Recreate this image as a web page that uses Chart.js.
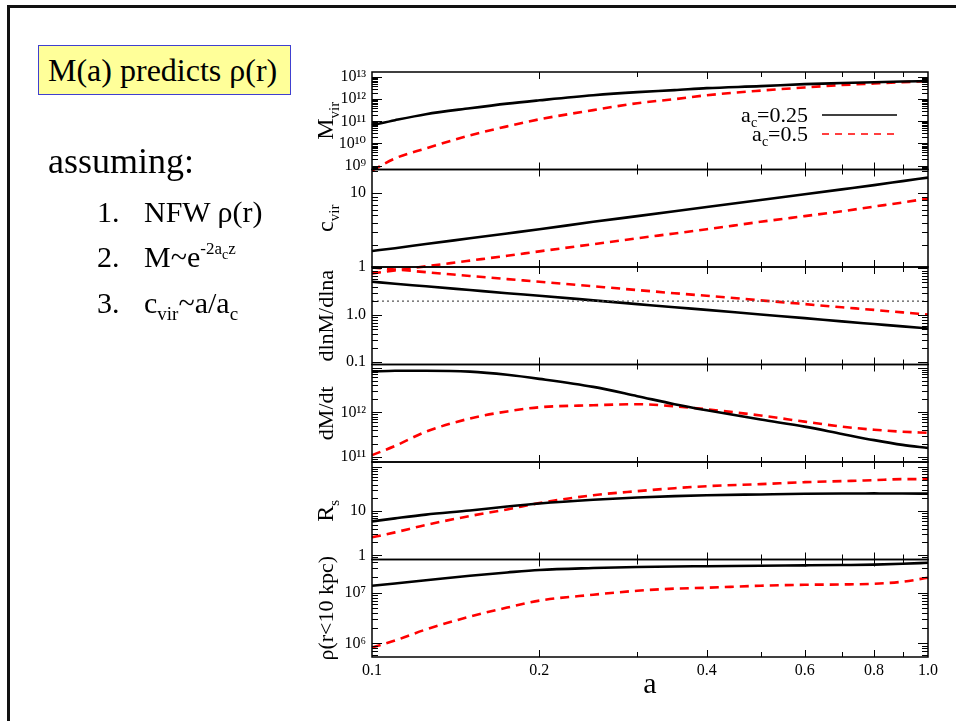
<!DOCTYPE html>
<html>
<head>
<meta charset="utf-8">
<title>M(a) predicts rho(r)</title>
<script src="https://cdn.jsdelivr.net/npm/chart.js@4.4.1/dist/chart.umd.min.js"></script>
<style>
  html, body { margin: 0; padding: 0; width: 956px; height: 721px; overflow: hidden; background: #fff; }
  body { position: relative; font-family: "Liberation Serif", "Times New Roman", serif; color: #000; }
  #frame { position: absolute; left: 7px; top: 5px; width: 980px; height: 740px; border-top: 3px solid #111; border-left: 3px solid #111; }
  #chart { position: absolute; left: 0; top: 0; }
  .txt { position: absolute; white-space: nowrap; line-height: 1; z-index: 2; }
  #headline { left: 38px; top: 45px; width: 253px; height: 50px; box-sizing: border-box; background: #ffff99;
              border: 1px solid #4040d0; font-size: 32px; line-height: 48px; padding-left: 9px; }
  #assume { left: 48px; top: 143px; font-size: 36px; }
  .num, .item { font-size: 30px; }
  .num { left: 97px; }
  .item { left: 144px; }
  .sup { font-size: 17px; position: relative; top: -13px; }
  .supsub { font-size: 14px; position: relative; top: 5px; }
  .sub { font-size: 19px; position: relative; top: 7px; }
</style>
</head>
<body>
<div id="frame"></div>
<canvas id="chart" width="956" height="721"></canvas>
<div class="txt" id="headline">M(a) predicts ρ(r)</div>
<div class="txt" id="assume">assuming:</div>
<div class="txt num" style="top:197px">1.</div>
<div class="txt item" style="top:197px">NFW ρ(r)</div>
<div class="txt num" style="top:242px">2.</div>
<div class="txt item" style="top:242px">M~e<span class="sup">-2a<span class="supsub">c</span>z</span></div>
<div class="txt num" style="top:288px">3.</div>
<div class="txt item" style="top:288px">c<span class="sub">vir</span>~a/a<span class="sub">c</span></div>
<script>
// expansion factor samples (shared by every panel)
const aVals = [0.1, 0.11, 0.125, 0.15, 0.175, 0.2, 0.25, 0.3, 0.35, 0.4, 0.5, 0.6, 0.7, 0.8, 0.9, 1.0];
const aTicks = [0.1, 0.2, 0.4, 0.6, 0.8, 1.0];

// M_vir
const mvirAc25 = [6.6e10, 1.12e11, 2.1e11, 3.9e11, 6.3e11, 8.9e11, 1.51e12, 2.09e12, 2.57e12, 3.16e12, 3.89e12, 4.79e12, 5.37e12, 5.89e12, 6.31e12, 6.6e12];
const mvirAc50 = [5.9e8, 2.1e9, 5.9e9, 2.3e10, 5.9e10, 1.23e11, 3.2e11, 6.6e11, 1.0e12, 1.51e12, 2.45e12, 3.39e12, 4.37e12, 5.13e12, 5.89e12, 6.6e12];
// c_vir
const cvirAc25 = [1.65, 1.8, 2.05, 2.45, 2.85, 3.25, 4.1, 4.9, 5.7, 6.5, 8.1, 9.7, 11.3, 12.9, 14.6, 16.3];
const cvirAc50 = [0.82, 0.9, 1.02, 1.22, 1.42, 1.63, 2.04, 2.45, 2.85, 3.25, 4.1, 4.9, 5.7, 6.6, 7.5, 8.5];
// dlnM/dlna
const dlnAc25 = [5.2, 4.7, 4.15, 3.45, 2.95, 2.6, 2.08, 1.73, 1.48, 1.3, 1.04, 0.87, 0.74, 0.65, 0.58, 0.52];
const dlnAc50 = [10.4, 9.5, 8.3, 6.9, 5.9, 5.2, 4.15, 3.45, 2.95, 2.6, 2.08, 1.73, 1.48, 1.3, 1.15, 1.04];
const dlnRef = 2;
// dM/dt
const dmdtAc25 = [8.1e12, 8.5e12, 8.5e12, 8.1e12, 6.9e12, 5.6e12, 3.7e12, 2.3e12, 1.52e12, 1.11e12, 6.9e11, 4.8e11, 3.3e11, 2.4e11, 1.88e11, 1.6e11];
const dmdtAc50 = [1.11e11, 1.78e11, 3.7e11, 7.3e11, 1.05e12, 1.3e12, 1.44e12, 1.52e12, 1.37e12, 1.17e12, 8.5e11, 6.2e11, 4.8e11, 4.1e11, 3.7e11, 3.5e11];
// R_s
const rsAc25 = [5.9, 6.9, 8.4, 10.4, 12.8, 15.0, 18.2, 20.5, 22.0, 23.0, 24.0, 24.8, 25.2, 25.3, 25.2, 25.0];
const rsAc50 = [2.57, 3.33, 4.9, 7.8, 11.0, 15.3, 23.1, 28.5, 33.2, 36.9, 41.0, 45.5, 48.0, 50.6, 53.3, 53.3];
// rho(r<10 kpc)
const rhoAc25 = [1.37e7, 1.52e7, 1.75e7, 2.15e7, 2.5e7, 2.8e7, 3.05e7, 3.2e7, 3.28e7, 3.32e7, 3.4e7, 3.45e7, 3.5e7, 3.56e7, 3.7e7, 3.87e7];
const rhoAc50 = [8.3e5, 1.14e6, 1.88e6, 3.38e6, 5.08e6, 6.97e6, 9.1e6, 1.09e7, 1.2e7, 1.25e7, 1.37e7, 1.43e7, 1.45e7, 1.5e7, 1.64e7, 1.97e7];

// axis tick values
const mvirTicks = [1e9, 1e10, 1e11, 1e12, 1e13];
const cvirTicks = [1, 10];
const dlnTicks = [0.1, 1];
const dmdtTicks = [1e11, 1e12];
const rsTicks = [1, 10];
const rhoTicks = [1e6, 1e7];

const seriesNames = ['a_c=0.25', 'a_c=0.5'];
const panelIds = ['yMvir', 'yCvir', 'yDln', 'yDmdt', 'yRs', 'yRho'];
const panelTitles = [['M', 'vir'], ['c', 'vir'], ['dlnM/dlna', ''], ['dM/dt', ''], ['R', 's'], ['ρ(r<10 kpc)', '']];

const serif = '"Liberation Serif", "DejaVu Serif", "Times New Roman", serif';
Chart.defaults.font.family = serif;
Chart.defaults.color = '#000';

const supDigits = {'0':'⁰','1':'¹','2':'²','3':'³','4':'⁴','5':'⁵','6':'⁶','7':'⁷','8':'⁸','9':'⁹'};
const powLabel = v => '10' + String(Math.round(Math.log10(v))).split('').map(c => supDigits[c]).join('');

const pts = arr => aVals.map((a, i) => ({x: a, y: arr[i]}));

function line(arr, yAxisID, red) {
    return {
        data: pts(arr), yAxisID,
        borderColor: red ? '#ff0000' : '#000000',
        borderWidth: 2.6,
        borderDash: red ? [9, 6] : [],
        pointRadius: 0,
        cubicInterpolationMode: 'monotone',
        clip: false
    };
}

function yScale(min, max, ticks, fmt, weight) {
    return {
        type: 'logarithmic', position: 'left', stack: 'panels', stackWeight: 1, weight,
        min, max,
        grid: {display: false, drawTicks: false},
        border: {display: false},
        afterBuildTicks: s => { s.ticks = ticks.map(v => ({value: v})); },
        afterFit: s => { s.width = 72; },
        ticks: {autoSkip: false, padding: 6, font: {size: 16}, callback: fmt}
    };
}

// frames, inward ticks, rotated titles with subscripts, legend
const decor = {
    id: 'decor',
    afterDraw(chart) {
        const ctx = chart.ctx;
        const xs = chart.scales.x;
        const L = chart.chartArea.left, R = chart.chartArea.right;
        ctx.save();
        ctx.strokeStyle = '#000';
        panelIds.forEach((id, p) => {
            const s = chart.scales[id];
            ctx.lineWidth = 1.5;
            ctx.strokeRect(L, s.top, R - L, s.bottom - s.top);
            ctx.lineWidth = 1;
            ctx.beginPath();
            const lo = Math.floor(Math.log10(s.min)), hi = Math.ceil(Math.log10(s.max));
            for (let e = lo; e <= hi; e++) {
                for (let k = 1; k <= 9; k++) {
                    const v = k * Math.pow(10, e);
                    if (v < s.min * 0.999 || v > s.max * 1.001) continue;
                    const py = Math.round(s.getPixelForValue(v)) + 0.5;
                    const len = k === 1 ? 10 : 6;
                    ctx.moveTo(L, py); ctx.lineTo(L + len, py);
                    ctx.moveTo(R, py); ctx.lineTo(R - len, py);
                }
            }
            for (let k = 2; k <= 9; k++) {
                const px = Math.round(xs.getPixelForValue(k / 10)) + 0.5;
                const len = aTicks.includes(k / 10) ? 7 : 5;
                ctx.moveTo(px, s.top); ctx.lineTo(px, s.top + len);
                ctx.moveTo(px, s.bottom); ctx.lineTo(px, s.bottom - len);
            }
            ctx.stroke();

            // rotated axis title
            const [main, sub] = panelTitles[p];
            const big = sub ? 24 : 22;
            ctx.save();
            ctx.translate(333, (s.top + s.bottom) / 2);
            ctx.rotate(-Math.PI / 2);
            ctx.fillStyle = '#000';
            ctx.textBaseline = 'alphabetic';
            ctx.font = big + 'px ' + serif;
            const w1 = ctx.measureText(main).width;
            ctx.font = '15px ' + serif;
            const w2 = sub ? ctx.measureText(sub).width : 0;
            const x0 = -(w1 + w2) / 2;
            ctx.font = big + 'px ' + serif;
            ctx.fillText(main, x0, 0);
            if (sub) { ctx.font = '15px ' + serif; ctx.fillText(sub, x0 + w1, 6); }
            ctx.restore();
        });

        // legend in the top panel
        const top = chart.scales.yMvir.top;
        seriesNames.forEach((name, i) => {
            const [a, rest] = name.split('_');
            const c = rest.charAt(0), tail = rest.slice(1);
            const base = top + 50 + i * 19;
            ctx.fillStyle = '#000';
            ctx.textBaseline = 'alphabetic';
            ctx.font = '22px ' + serif;
            const wa = ctx.measureText(a).width, wt = ctx.measureText(tail).width;
            ctx.font = '14px ' + serif;
            const wc = ctx.measureText(c).width;
            const x = R - 120 - (wa + wc + wt);
            ctx.font = '22px ' + serif;
            ctx.fillText(a, x, base);
            ctx.font = '14px ' + serif;
            ctx.fillText(c, x + wa, base + 5);
            ctx.font = '22px ' + serif;
            ctx.fillText(tail, x + wa + wc, base);
            ctx.beginPath();
            ctx.strokeStyle = i ? '#ff0000' : '#000';
            ctx.lineWidth = 1.5;
            ctx.setLineDash(i ? [7, 6] : []);
            ctx.moveTo(R - 106, base - 7); ctx.lineTo(R - 31, base - 7);
            ctx.stroke();
            ctx.setLineDash([]);
        });
        ctx.restore();
    }
};

new Chart(document.getElementById('chart'), {
    type: 'line',
    data: {
        datasets: [
            line(mvirAc25, 'yMvir', false), line(mvirAc50, 'yMvir', true),
            line(cvirAc25, 'yCvir', false), line(cvirAc50, 'yCvir', true),
            {data: [{x: aVals[0], y: dlnRef}, {x: aVals[aVals.length - 1], y: dlnRef}], yAxisID: 'yDln',
             borderColor: '#555', borderWidth: 1.3, borderDash: [2, 3], pointRadius: 0},
            line(dlnAc25, 'yDln', false), line(dlnAc50, 'yDln', true),
            line(dmdtAc25, 'yDmdt', false), line(dmdtAc50, 'yDmdt', true),
            line(rsAc25, 'yRs', false), line(rsAc50, 'yRs', true),
            line(rhoAc25, 'yRho', false), line(rhoAc50, 'yRho', true)
        ]
    },
    options: {
        responsive: false,
        animation: false,
        events: [],
        layout: {padding: {left: 300, right: 28, top: 72, bottom: 14}},
        plugins: {legend: {display: false}, tooltip: {enabled: false}},
        scales: {
            x: {
                type: 'logarithmic', position: 'bottom', min: 0.1, max: 1.0,
                grid: {display: false, drawTicks: false},
                border: {display: false},
                afterBuildTicks: s => { s.ticks = aTicks.map(v => ({value: v})); },
                afterFit: s => { s.height = 50; },
                ticks: {autoSkip: false, maxRotation: 0, padding: 4, font: {size: 16}, callback: v => Number(v).toFixed(1)},
                title: {display: true, text: 'a', font: {size: 30}, padding: {top: 0, bottom: 4}}
            },
            yMvir: yScale(6.6e8, 1.7e13, mvirTicks, powLabel, 6),
            yCvir: yScale(1, 21, cvirTicks, v => String(v), 5),
            yDln: yScale(0.089, 10.7, dlnTicks, v => Number(v).toFixed(1), 4),
            yDmdt: yScale(7.8e10, 1.17e13, dmdtTicks, powLabel, 3),
            yRs: yScale(0.81, 130, rsTicks, v => String(v), 2),
            yRho: yScale(5.4e5, 4.5e7, rhoTicks, powLabel, 1)
        }
    },
    plugins: [decor]
});
</script>
</body>
</html>
